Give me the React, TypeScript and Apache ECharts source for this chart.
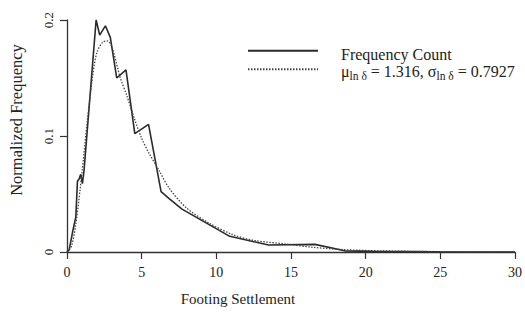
import React, { useEffect, useRef } from "react";
import * as echarts from "echarts";

const FONT = "'Liberation Serif', 'Times New Roman', serif";

// Frequency count (solid) – settlement, normalized frequency
const countX = [0, 0.15, 0.37, 0.59, 0.7, 0.81, 0.92, 1.03, 1.14, 1.95, 2.19, 2.57, 2.9, 3.33, 3.95, 4.54, 5.46, 6.3, 6.84, 7.7, 10.9, 13.5, 16.6, 18.6, 20.5, 25, 30];
const countY = [0, 0.002, 0.017, 0.03, 0.061, 0.063, 0.067, 0.059, 0.07, 0.2, 0.187, 0.195, 0.185, 0.15, 0.157, 0.102, 0.11, 0.052, 0.046, 0.037, 0.0135, 0.006, 0.0066, 0.001, 0.0005, 0.0002, 0];

// Fitted lognormal (dotted)
const fitX = [0, 0.3, 0.6, 1.0, 1.36, 1.7, 2.0, 2.4, 2.7, 3.0, 3.55, 4.0, 4.54, 5.0, 5.5, 6.18, 6.84, 8.0, 9.5, 11.1, 12.5, 14.6, 16.5, 18.6, 21, 25, 30];
const fitY = [0, 0.005, 0.025, 0.068, 0.113, 0.15, 0.172, 0.181, 0.182, 0.177, 0.151, 0.135, 0.114, 0.098, 0.085, 0.07, 0.055, 0.038, 0.025, 0.015, 0.01, 0.007, 0.004, 0.002, 0.001, 0.0003, 0];

const xTicks = [0, 5, 10, 15, 20, 25, 30];
const yTicks = [0, 0.1, 0.2];

const SERIES_COUNT = "Frequency Count";
const SERIES_FIT = "Lognormal fit";

export default function App() {
  const ref = useRef<HTMLDivElement>(null);
  useEffect(() => {
    if (!ref.current) return;
    const chart = echarts.init(ref.current, undefined, { renderer: "svg" });
    const axisColor = "#333";
    chart.setOption({
      animation: false,
      backgroundColor: "#fff",
      grid: { left: 62, right: 8, top: 20, bottom: 61 },
      legend: {
        left: 242,
        top: 41,
        orient: "vertical",
        itemWidth: 70,
        itemHeight: 12,
        itemGap: 1,
        data: [SERIES_COUNT, SERIES_FIT],
        itemStyle: { opacity: 0 },
        formatter: (name: string) =>
          name === SERIES_COUNT
            ? name
            : "{n|μ}{s|ln δ}{n| = 1.316, σ}{s|ln δ}{n| = 0.7927}",
        textStyle: {
          fontFamily: FONT,
          fontSize: 16,
          color: "#222",
          padding: [7, 0, 0, 18],
          rich: {
            n: { fontFamily: FONT, fontSize: 16, color: "#222", lineHeight: 19, verticalAlign: "top" },
            s: { fontFamily: FONT, fontSize: 11.5, color: "#222", lineHeight: 19, verticalAlign: "bottom", padding: [7, 0, 0, 0] },
          },
        },
      },
      xAxis: {
        type: "value",
        min: xTicks[0],
        max: xTicks[xTicks.length - 1],
        interval: 5,
        name: "Footing Settlement",
        nameLocation: "middle",
        nameGap: 39,
        nameTextStyle: { fontFamily: FONT, fontSize: 15, color: "#222", padding: [0, 106, 0, 0] },
        axisLine: { lineStyle: { color: axisColor, width: 1.3 } },
        axisTick: { length: 7, lineStyle: { color: axisColor, width: 1.2 } },
        axisLabel: { fontFamily: FONT, fontSize: 14, color: "#222", margin: 13 },
        splitLine: { show: false },
      },
      yAxis: {
        type: "value",
        min: yTicks[0],
        max: yTicks[yTicks.length - 1],
        interval: 0.1,
        name: "Normalized Frequency",
        nameLocation: "middle",
        nameGap: 42,
        nameTextStyle: { fontFamily: FONT, fontSize: 16.5, color: "#222", padding: [0, 0, 0, 32] },
        axisLine: { lineStyle: { color: axisColor, width: 1.3 } },
        axisTick: { length: 7, lineStyle: { color: axisColor, width: 1.2 } },
        axisLabel: {
          fontFamily: FONT,
          fontSize: 13,
          color: "#222",
          rotate: 90,
          margin: 12,
          formatter: (v: number) => (v === 0 ? "0" : String(Math.round(v * 10) / 10)),
        },
        splitLine: { show: false },
      },
      series: [
        {
          name: SERIES_COUNT,
          type: "line",
          data: countX.map((x, i) => [x, countY[i]]),
          symbol: "none",
          clip: false,
          lineStyle: { color: "#2a2a2a", width: 1.6, type: "solid" },
          itemStyle: { color: "#2a2a2a" },
        },
        {
          name: SERIES_FIT,
          type: "line",
          data: fitX.map((x, i) => [x, fitY[i]]),
          symbol: "none",
          smooth: 0.3,
          clip: false,
          lineStyle: { color: "#444", width: 1.3, type: [1.5, 1.5] },
          itemStyle: { color: "#444" },
        },
      ],
    });
    return () => chart.dispose();
  }, []);
  return (
    <div
      ref={ref}
      style={{ position: "absolute", left: 0, top: 0, width: 525, height: 313 }}
    />
  );
}
